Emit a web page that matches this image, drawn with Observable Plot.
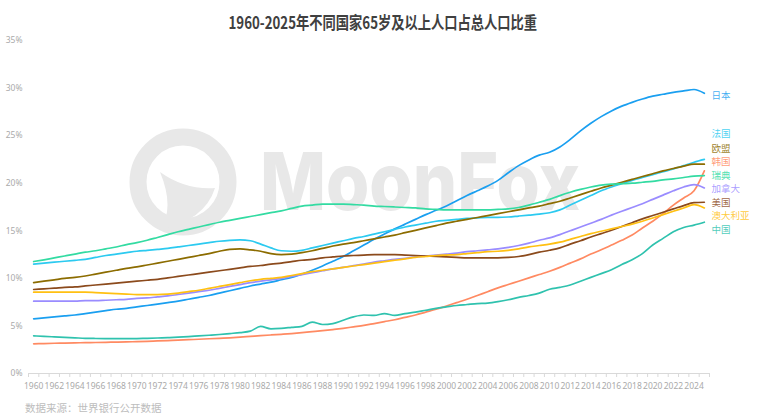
<!DOCTYPE html>
<html><head><meta charset="utf-8">
<script src="https://cdn.jsdelivr.net/npm/d3@7"></script>
<script src="https://cdn.jsdelivr.net/npm/@observablehq/plot@0.6"></script>
<style>
body{margin:0;background:#fff;width:765px;height:420px;overflow:hidden;font-family:"Noto Sans CJK SC","Noto Sans",sans-serif}
#title{height:30px;box-sizing:border-box;padding-top:11px;text-align:center;line-height:22px}
#title span{display:inline-block;font-weight:bold;font-size:17px;color:#404040;transform:scaleX(0.78)}
#cap{height:22px;line-height:20px;padding-left:25px;font-size:10.5px;color:#bdbdbd}
svg{display:block}
</style></head>
<body>
<div id="title"><span>1960-2025年不同国家65岁及以上人口占总人口比重</span></div>
<div id="chart"></div>
<div id="cap">数据来源：世界银行公开数据</div>
<script>
const years = d3.range(1960, 2026);
const countries = ["日本","法国","欧盟","韩国","瑞典","加拿大","美国","澳大利亚","中国"];
const colors = ["#1a9ff0","#2ccaf0","#8c6c00","#ff8a62","#33dba2","#9a8cff","#8b4a1c","#ffc012","#2fc2ae"];

const japan = [5.75,5.85,5.95,6.05,6.15,6.3,6.45,6.6,6.75,6.85,7.0,7.15,7.3,7.45,7.6,7.8,8.0,8.2,8.45,8.7,8.95,9.2,9.4,9.6,9.85,10.1,10.45,10.85,11.3,11.8,12.3,12.9,13.5,14.1,14.65,15.2,15.7,16.2,16.7,17.15,17.6,18.15,18.7,19.2,19.7,20.3,21.1,21.85,22.45,22.95,23.25,23.8,24.6,25.5,26.3,27.0,27.6,28.1,28.5,28.85,29.15,29.35,29.55,29.7,29.85,29.45];
const france = [11.5,11.6,11.7,11.8,11.9,12.0,12.2,12.4,12.55,12.7,12.85,12.95,13.05,13.15,13.3,13.45,13.6,13.75,13.9,14.0,14.05,13.95,13.6,13.2,12.9,12.85,12.95,13.2,13.45,13.7,13.95,14.2,14.4,14.65,14.9,15.15,15.4,15.6,15.8,16.0,16.1,16.2,16.3,16.35,16.4,16.4,16.45,16.55,16.65,16.75,16.9,17.2,17.7,18.2,18.7,19.2,19.6,19.95,20.3,20.6,20.9,21.2,21.5,21.85,22.2,22.5];
const eu = [9.56,9.7,9.85,10.0,10.1,10.25,10.45,10.65,10.85,11.05,11.2,11.4,11.6,11.8,12.0,12.2,12.4,12.6,12.85,13.05,13.1,13.0,12.85,12.6,12.5,12.55,12.7,12.9,13.15,13.4,13.6,13.75,13.95,14.15,14.35,14.55,14.8,15.05,15.3,15.55,15.8,16.0,16.2,16.4,16.6,16.8,17.0,17.2,17.4,17.6,17.85,18.1,18.45,18.8,19.15,19.5,19.8,20.1,20.4,20.7,21.0,21.3,21.55,21.8,22.0,22.0];
const korea = [3.12,3.15,3.18,3.2,3.22,3.24,3.26,3.28,3.3,3.32,3.35,3.38,3.42,3.46,3.5,3.55,3.6,3.65,3.7,3.75,3.82,3.9,3.98,4.05,4.12,4.2,4.3,4.4,4.5,4.62,4.75,4.9,5.05,5.25,5.45,5.65,5.9,6.15,6.45,6.75,7.1,7.45,7.8,8.2,8.6,9.0,9.35,9.7,10.05,10.4,10.75,11.15,11.6,12.05,12.55,13.0,13.5,14.0,14.55,15.3,16.0,16.8,17.7,18.45,19.2,21.3];
const sweden = [11.77,11.95,12.15,12.35,12.55,12.75,12.9,13.1,13.3,13.55,13.75,14.0,14.3,14.6,14.9,15.15,15.4,15.65,15.9,16.1,16.3,16.5,16.7,16.9,17.1,17.35,17.6,17.7,17.8,17.8,17.8,17.75,17.7,17.6,17.55,17.5,17.45,17.4,17.3,17.25,17.2,17.2,17.2,17.2,17.2,17.25,17.3,17.45,17.7,18.0,18.3,18.7,19.05,19.35,19.6,19.8,19.9,19.95,20.0,20.1,20.2,20.35,20.45,20.6,20.75,20.8];
const canada = [7.6,7.6,7.6,7.6,7.6,7.65,7.65,7.7,7.75,7.8,7.9,7.95,8.05,8.15,8.3,8.45,8.6,8.75,8.95,9.15,9.35,9.55,9.7,9.85,10.0,10.2,10.4,10.6,10.8,11.0,11.15,11.35,11.5,11.7,11.85,12.0,12.1,12.25,12.35,12.45,12.55,12.65,12.8,12.9,13.0,13.1,13.25,13.45,13.7,14.0,14.25,14.6,15.0,15.4,15.8,16.2,16.65,17.05,17.45,17.85,18.3,18.75,19.2,19.6,19.85,19.5];
const usa = [8.83,8.9,8.97,9.05,9.1,9.2,9.3,9.4,9.5,9.6,9.7,9.8,9.9,10.05,10.2,10.35,10.5,10.65,10.8,10.95,11.1,11.25,11.35,11.5,11.6,11.75,11.9,12.0,12.15,12.25,12.35,12.4,12.45,12.5,12.5,12.5,12.45,12.4,12.35,12.3,12.25,12.2,12.15,12.15,12.15,12.15,12.2,12.3,12.5,12.75,12.95,13.2,13.6,13.95,14.35,14.7,15.05,15.45,15.85,16.25,16.6,16.95,17.3,17.65,17.95,18.0];
const australia = [8.55,8.55,8.55,8.55,8.55,8.55,8.5,8.45,8.4,8.35,8.3,8.3,8.3,8.35,8.45,8.6,8.75,8.95,9.15,9.35,9.55,9.75,9.9,10.0,10.1,10.3,10.5,10.7,10.85,11.0,11.15,11.3,11.45,11.6,11.75,11.9,12.05,12.2,12.3,12.4,12.45,12.5,12.6,12.7,12.8,12.85,12.95,13.1,13.3,13.45,13.6,13.8,14.1,14.4,14.7,14.95,15.2,15.45,15.7,16.0,16.35,16.7,17.05,17.4,17.75,17.4];
const china = [3.96,3.9,3.85,3.8,3.75,3.7,3.68,3.67,3.66,3.66,3.67,3.7,3.73,3.77,3.82,3.88,3.95,4.02,4.1,4.2,4.3,4.45,4.95,4.7,4.75,4.85,4.95,5.4,5.15,5.25,5.6,5.95,6.15,6.1,6.3,6.1,6.3,6.45,6.65,6.85,7.0,7.15,7.25,7.35,7.4,7.55,7.75,8.0,8.2,8.45,8.85,9.05,9.3,9.7,10.1,10.5,10.9,11.45,11.95,12.6,13.5,14.2,14.9,15.35,15.6,15.9];

const series = [japan, france, eu, korea, sweden, canada, usa, australia, china];
const rows = [];
countries.forEach((c, i) => series[i].forEach((v, j) => rows.push({country: c, year: years[j], value: v})));

// label anchor heights in % units (layout only, spaced so labels don't collide)
const labelAt = [29.2, 25.2, 23.65, 22.23, 20.81, 19.39, 17.97, 16.55, 15.13];
const labels = countries.map((c, i) => ({country: c, y: labelAt[i]}));

const boundaries = d3.range(1959.5, 2026, 1);
const evenYears = years.filter(y => y % 2 === 0);

const chart = Plot.plot({
  width: 765, height: 368,
  marginTop: 10, marginBottom: 25, marginLeft: 28, marginRight: 56,
  style: {fontFamily: "'Noto Sans', sans-serif", background: "transparent"},
  x: {domain: [1959.5, 2025.5], axis: null},
  y: {domain: [0, 35], axis: null},
  color: {domain: countries, range: colors},
  marks: [
    Plot.axisY([0,5,10,15,20,25,30,35], {tickSize: 0, tickPadding: 6, tickFormat: d => d + "%", fontSize: 8.5, fill: "#aaaaaa", label: null}),
    Plot.ruleY([0], {stroke: "#d9d9d9"}),
    Plot.axisX(boundaries, {tickSize: 4, tickFormat: () => "", stroke: "#d9d9d9", strokeOpacity: 1, label: null}),
    Plot.axisX(evenYears, {tickSize: 0, tickPadding: 9, tickFormat: d => String(d), fontSize: 8.5, fill: "#aaaaaa", label: null}),
    Plot.line(rows, {x: "year", y: "value", z: "country", stroke: "country", strokeWidth: 1.7, curve: "monotone-x"}),
    Plot.text(labels, {x: 2025.5, y: "y", text: "country", fill: "country", textAnchor: "start", dx: 2, fontSize: 9.5, fontFamily: "'Noto Sans CJK SC'", fillOpacity: 0.85})
  ]
});
document.getElementById("chart").appendChild(chart);

// MoonFox watermark (decorative, behind marks)
const ns = "http://www.w3.org/2000/svg";
const wm = document.createElementNS(ns, "g");
wm.setAttribute("fill", "#e8e8e8");
wm.setAttribute("text-anchor", "start");
const ring = document.createElementNS(ns, "circle");
ring.setAttribute("cx", 183); ring.setAttribute("cy", 152); ring.setAttribute("r", 45);
ring.setAttribute("fill", "none"); ring.setAttribute("stroke", "#e8e8e8"); ring.setAttribute("stroke-width", 17);
wm.appendChild(ring);
const moon = document.createElementNS(ns, "path");
moon.setAttribute("d", "M160,142 Q185,160 215,158 Q205,190 160,200 Q175,178 160,142 Z");
wm.appendChild(moon);
const wt = document.createElementNS(ns, "text");
wt.setAttribute("x", 260); wt.setAttribute("y", 180);
wt.setAttribute("text-anchor", "start");
wt.setAttribute("font-size", 80); wt.setAttribute("font-weight", 800);
wt.setAttribute("font-family", "Inter, Lato, sans-serif");
wt.setAttribute("textLength", 320); wt.setAttribute("lengthAdjust", "spacingAndGlyphs");
wt.textContent = "MoonFox";
wm.appendChild(wt);
chart.insertBefore(wm, chart.firstChild.nextSibling);
</script>
</body></html>
